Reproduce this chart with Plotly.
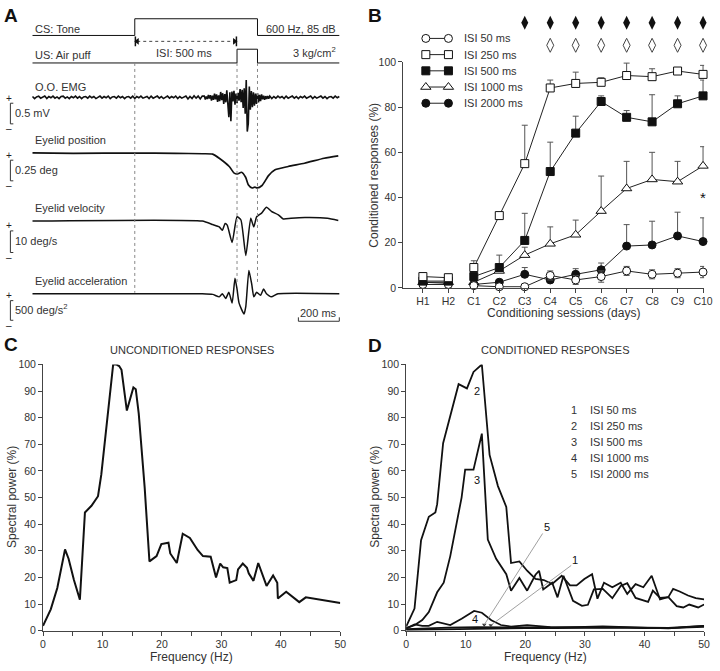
import plotly.graph_objects as go

W, H = 720, 671
def xp(px): return px / W
def yp(py): return 1 - py / H

FONT = "Liberation Sans, Arial, Helvetica, sans-serif"
TXT = "#333333"
INK = "#111111"

# ---------------- Panel A data (times in ms, CS onset = 0) ----------------
cs_t = [-500, 0, 0, 600, 600, 1000]
cs_v = [0, 0, 1, 1, 0, 0]
us_t = [-500, 500, 500, 600, 600, 1000]
us_v = [0, 0, 1, 1, 0, 0]
cs_on, us_on, us_off = 0, 500, 600

emg_base = [0.02, -0.03, 0.01, 0.03, -0.02, 0.00, 0.03, -0.03, 0.02, -0.01,
            0.03, -0.02, 0.01, -0.03, 0.02, 0.03, -0.02, 0.01, -0.03, 0.02,
            -0.01, 0.03, -0.02, 0.02, -0.03, 0.01, 0.02, -0.02, 0.03, -0.01,
            0.02, -0.03, 0.01, 0.03, -0.02, 0.02, -0.01, 0.03, -0.03, 0.01,
            0.02, -0.02, 0.03, -0.01, 0.02, -0.03, 0.01, 0.02, -0.02, 0.03,
            -0.03, 0.02, -0.01, 0.03, -0.02, 0.01, 0.02, -0.03, 0.03, -0.02,
            0.01, 0.03, -0.02, 0.02, -0.03, 0.01, 0.03, -0.02, 0.02, -0.01,
            0.03, -0.03, 0.02, -0.02, 0.01, 0.03, -0.04, 0.02, -0.03, 0.04,
            -0.02, 0.03, -0.04, 0.03]
emg_burst = [0.03, -0.05, 0.02, -0.04, 0.06, -0.03, 0.05, -0.08, 0.04, -0.06,
             0.09, -0.05, 0.07, -0.11, 0.05, -0.09, 0.13, -0.07, 0.10, -0.16,
             0.08, -0.12, 0.17, -0.22, -0.48, 0.12, -0.58, 0.14, -0.10, 0.16,
             -0.18, 0.09, -0.14, 0.11, -0.08, 0.20, -0.12, 0.18, -0.26, 0.22,
             -0.40, 0.42, -0.83, -0.64, 0.26, -0.30, 0.15, -0.24, 0.12, -0.20,
             0.09, -0.16, 0.10, -0.12, 0.06, -0.09, 0.07, -0.05, 0.04, -0.06,
             0.03, -0.04, 0.03, -0.03]
emg_tail = [0.03, -0.03, 0.02, -0.02, 0.03, -0.01, 0.02, -0.03, 0.03, -0.02,
            0.01, 0.03, -0.02, 0.02, -0.03, 0.02, -0.01, 0.03, -0.02, 0.01,
            0.03, -0.03, 0.02, -0.02, 0.01, 0.03, -0.02, 0.02, -0.03, 0.01,
            0.02, -0.02, 0.03, -0.01, 0.02]
emg_t = list(range(-500, 340, 10)) + list(range(340, 660, 5)) + list(range(660, 1001, 10))
emg_v = emg_base + emg_burst + emg_tail

pos_t = [-500, -300, 0, 200, 333, 381, 413, 462, 486, 502, 522, 542, 555, 574, 587,
         598, 622, 654, 686, 750, 830, 926, 995]
pos_v = [0.005, 0.0, 0.003, 0.0, -0.005, -0.01, -0.06, -0.16, -0.24, -0.25, -0.23,
         -0.29, -0.38, -0.42, -0.41, -0.42, -0.39, -0.27, -0.20, -0.16, -0.12, -0.06, -0.03]

vel_t = [-500, 330, 381, 413, 428, 442, 452, 476, 500, 519, 543, 567, 582, 596, 620,
         644, 668, 702, 726, 764, 832, 942, 995]
vel_v = [0, 0, -1.6, -2.7, -4.3, -1.1, -1.9, -9.9, 2.0, 0.5, -15.9, 1.3, -2.7, 2.0,
         3.7, 6.4, 4.5, 2.9, 1.0, 1.3, 1.6, 1.3, 0.3]

acc_t = [-500, 330, 381, 413, 428, 445, 460, 476, 490, 500, 510, 534, 543, 558, 572,
         582, 596, 615, 630, 644, 668, 700, 1000]
acc_v = [0, 0, -16, -79, 0, -119, 40, -238, 397, 119, -238, -516, -318, 595, 238,
         -79, 40, -40, 119, 0, -79, 0, 0]

emg_scale, pos_scale, vel_scale, acc_scale, time_scale = 0.5, 0.25, 10, 500, 200

# ---------------- Panel B data ----------------
sessions = ["H1", "H2", "C1", "C2", "C3", "C4", "C5", "C6", "C7", "C8", "C9", "C10"]
isi_names = ["ISI 50 ms", "ISI 250 ms", "ISI 500 ms", "ISI 1000 ms", "ISI 2000 ms"]
isi50 = [1.5, 1.5, 1.0, 0.5, 0.5, 5.5, 3.5, 5.0, 7.5, 6.0, 6.5, 7.0]
isi50_err = [1.0, 1.0, 0.5, 0.5, 0.5, 2.0, 2.0, 2.5, 2.0, 2.0, 2.0, 2.5]
isi250 = [5.0, 4.5, 9.0, 32.0, 55.0, 88.5, 90.5, 91.0, 94.0, 93.5, 96.0, 94.5]
isi250_err = [1.5, 1.5, 3.0, 0.5, 17.0, 3.5, 5.0, 2.0, 5.5, 3.5, 1.0, 4.0]
isi500 = [3.0, 3.0, 5.0, 9.0, 21.0, 51.5, 68.5, 82.5, 75.5, 73.5, 81.5, 85.0]
isi500_err = [1.0, 1.0, 1.0, 5.5, 12.0, 13.0, 7.5, 2.5, 3.0, 12.0, 3.5, 7.0]
isi1000 = [2.5, 2.5, 2.5, 7.5, 14.5, 19.5, 23.5, 34.0, 44.0, 48.0, 47.0, 54.0]
isi1000_err = [1.0, 1.0, 1.0, 2.5, 3.5, 7.5, 6.5, 15.5, 12.0, 12.0, 9.0, 8.5]
isi2000 = [2.5, 2.0, 1.5, 2.5, 6.0, 3.5, 6.0, 8.0, 18.5, 19.0, 23.0, 20.5]
isi2000_err = [1.0, 1.0, 0.5, 1.0, 3.0, 2.0, 2.5, 3.0, 9.5, 10.5, 10.5, 10.5]
sig_filled = ["C3", "C4", "C5", "C6", "C7", "C8", "C9", "C10"]
sig_open = ["C4", "C5", "C6", "C7", "C8", "C9", "C10"]
star_session = "C10"

# ---------------- Panel C data ----------------
uc_f = [0, 1.3, 2.4, 3.7, 4.3, 5.2, 6.2, 7.05, 8.15, 9.25, 9.8, 11.8, 12.3, 12.8, 13.2,
        14.1, 15.2, 15.6, 16.1, 17.1, 17.9, 19.1, 19.9, 21.1, 21.4, 22.5, 23.5, 24.7,
        26.0, 26.9, 28.2, 29.1, 29.8, 30.3, 31.0, 31.4, 32.5, 32.8, 33.6, 34.3, 34.6,
        35.4, 36.2, 37.6, 38.7, 39.4, 39.5, 40.9, 43.1, 44.2, 50]
uc_p = [1.8, 8, 16, 30.5, 27, 19, 11.6, 44.4, 46.9, 50.5, 58.6, 100, 100, 99.4, 98,
        82.7, 91.4, 90.7, 81.5, 53.7, 26, 28, 32.5, 33, 29, 25.4, 36.4, 34.8, 30.3,
        28, 27.8, 20, 25.2, 23.8, 23.5, 18, 19, 23, 25.2, 23.6, 21.5, 18.7, 25.4,
        16.8, 20.7, 18, 12.1, 14.6, 10.7, 12.5, 10.4]

# ---------------- Panel D data ----------------
cr_names = ["ISI 50 ms", "ISI 250 ms", "ISI 500 ms", "ISI 1000 ms", "ISI 2000 ms"]
cr1_f = [0, 5, 10, 15, 20, 25, 30, 35, 40, 45, 50]
cr1_p = [0.3, 0.5, 0.6, 0.8, 0.9, 0.9, 1.0, 1.1, 0.9, 1.0, 1.4]
cr2_f = [0, 1.4, 2.5, 3.8, 4.9, 5.2, 6.2, 8.8, 10.2, 11.3, 12.7, 14.0, 15.4, 16.8, 17.6,
         19.0, 20.3, 21.7, 23.1, 24.5, 26.1, 27.5, 28.6, 29.9, 31.2, 32.1, 33.2, 34.6,
         36.0, 37.1, 38.5, 39.8, 41.2, 42.6, 44.0, 44.8, 45.9, 47.3, 48.6, 50]
cr2_p = [1.5, 8.3, 34, 42.8, 44.4, 47.5, 70.4, 92.6, 91, 97.2, 100, 66, 54.3, 46.5, 25.4,
         26, 22.5, 19.4, 19, 17.5, 20.6, 17, 17, 19.4, 21.2, 12, 18, 16.3, 18, 13.8,
         17.5, 16.3, 20.6, 11.7, 12.6, 15.7, 14.7, 13.2, 12.2, 11.7]
cr3_f = [0, 1.4, 2.7, 3.8, 5.2, 6.3, 7.4, 8.5, 9.3, 9.9, 11.3, 12.7, 13.7, 15.1, 16.8,
         17.6, 19.0, 20.3, 21.7, 22.3, 23.0, 24.5, 25.4, 26.4, 28.0, 29.5, 30.5, 31.5,
         33.0, 34.6, 36.0, 37.1, 38.5, 40.6, 41.4, 42.6, 44.0, 45.4, 46.5, 47.5, 49.0, 50]
cr3_p = [0.9, 2, 4, 7, 14.4, 18, 28, 40.4, 50, 60.5, 60.5, 74, 34.2, 27, 21.2, 15,
         19.8, 15, 21, 22.5, 15.5, 18, 12.5, 20.6, 11.2, 9.3, 9.7, 15.5, 15.7, 12.2,
         16.8, 17.8, 12.3, 10.8, 15, 12.3, 12.6, 9.2, 8.7, 9.8, 8.7, 9.8]
cr4_f = [0, 1.4, 2.7, 3.8, 5.2, 7.4, 9.3, 11.4, 12.7, 14.3, 15.9, 17.6, 20.3, 22.0,
         24.2, 28, 32, 36, 40, 44, 47, 50]
cr4_p = [0.85, 2.3, 1.8, 1.8, 3.3, 2.1, 4.5, 7.4, 6.7, 3.9, 2.1, 1.5, 2.1, 1.8, 1.3,
         1.2, 1.3, 1.2, 1.1, 1.0, 1.4, 1.8]
cr5_f = [0, 3, 7, 12, 16, 20, 25, 30, 33, 37, 41, 44, 47, 50]
cr5_p = [0.6, 0.9, 1.1, 1.3, 1.2, 1.1, 1.2, 1.4, 1.6, 1.3, 0.9, 0.8, 1.3, 1.8]

# =====================================================================
fig = go.Figure()
annotations = []
shapes = []

def ann(text, px, py, size=11, xanchor="left", yanchor="middle", color=TXT, **kw):
    d = dict(text=text, x=xp(px), y=yp(py), xref="paper", yref="paper", showarrow=False,
             font=dict(family=FONT, size=size, color=color), xanchor=xanchor, yanchor=yanchor)
    d.update(kw)
    return d

# ---------------- Panel A layout ----------------
MS_PER_PX = 500 / 104.0
T0_PX = 134
def t_at(px): return (px - T0_PX) * MS_PER_PX

a_x_range = [t_at(0), t_at(345)]
bands = {
    "cs": ("y", 6, 40, 30, 17.0),
    "us": ("y6", 40, 62, 58, 14.0),
    "emg": ("y7", 66, 136, 93, 42.0),
    "pos": ("y8", 140, 200, 150, 84.0),
    "vel": ("y9", 200, 262, 219, 2.2),
    "acc": ("y10", 262, 330, 293, 0.04),
}
def band_val(key, py):
    _, top, bot, zero, ppu = bands[key]
    return (zero - py) / ppu

layout_axes = {}
layout_axes["xaxis"] = dict(domain=[0, xp(345)], range=a_x_range, visible=False,
                            fixedrange=True, anchor="y")
for key, (ax, top, bot, zero, ppu) in bands.items():
    name = "yaxis" if ax == "y" else "yaxis" + ax[1:]
    layout_axes[name] = dict(domain=[yp(bot), yp(top)],
                             range=[(zero - bot) / ppu, (zero - top) / ppu],
                             visible=False, fixedrange=True, anchor="x")

fig.add_trace(go.Scatter(x=cs_t, y=cs_v, mode="lines", line=dict(color=INK, width=1),
                         xaxis="x", yaxis="y", hoverinfo="skip"))
fig.add_trace(go.Scatter(x=us_t, y=us_v, mode="lines", line=dict(color=INK, width=1),
                         xaxis="x", yaxis="y6", hoverinfo="skip"))
fig.add_trace(go.Scatter(x=emg_t, y=emg_v, mode="lines", line=dict(color=INK, width=1.6),
                         xaxis="x", yaxis="y7", hoverinfo="skip"))
fig.add_trace(go.Scatter(x=pos_t, y=pos_v, mode="lines", line=dict(color=INK, width=1.7, shape="spline", smoothing=0.6),
                         xaxis="x", yaxis="y8", hoverinfo="skip"))
fig.add_trace(go.Scatter(x=vel_t, y=vel_v, mode="lines", line=dict(color=INK, width=1.5, shape="spline", smoothing=0.5),
                         xaxis="x", yaxis="y9", hoverinfo="skip"))
fig.add_trace(go.Scatter(x=acc_t, y=acc_v, mode="lines", line=dict(color=INK, width=1.5, shape="spline", smoothing=0.5),
                         xaxis="x", yaxis="y10", hoverinfo="skip"))

# ISI arrow (on CS axis)
isi_y = band_val("cs", 36)
fig.add_trace(go.Scatter(x=[cs_on + 12, us_on - 12], y=[isi_y, isi_y], mode="lines",
                         line=dict(color="#444", width=1, dash="dot"),
                         xaxis="x", yaxis="y", hoverinfo="skip"))
fig.add_trace(go.Scatter(x=[cs_on + 12, us_on - 12], y=[isi_y, isi_y], mode="markers",
                         marker=dict(symbol=["triangle-left", "triangle-right"], size=6, color=INK),
                         xaxis="x", yaxis="y", hoverinfo="skip", cliponaxis=False))
fig.add_trace(go.Scatter(x=[cs_on + 3, us_on - 3], y=[isi_y, isi_y], mode="markers",
                         marker=dict(symbol="line-ns", size=7, line=dict(color=INK, width=1.5)),
                         xaxis="x", yaxis="y", hoverinfo="skip", cliponaxis=False))

for t, bottom in [(cs_on, 292), (us_on, 284), (us_off, 284)]:
    shapes.append(dict(type="line", xref="x", yref="paper", x0=t, x1=t, y0=yp(58), y1=yp(bottom),
                       line=dict(color="#888", width=1, dash="dot")))

bx0, bx1 = t_at(7.5), t_at(10.5)
scale_defs = [("emg", "y7", emg_scale, 99, "0.5 mV"),
              ("pos", "y8", pos_scale, 157, "0.25 deg"),
              ("vel", "y9", vel_scale, 229, "10 deg/s"),
              ("acc", "y10", acc_scale, 300, "500 deg/s<sup>2</sup>")]
for key, ax, sc, top_px, label in scale_defs:
    ytop = band_val(key, top_px)
    ybot = ytop - sc
    for seg in [(bx0, ytop, bx0, ybot), (bx0, ytop, bx1, ytop), (bx0, ybot, bx1, ybot)]:
        shapes.append(dict(type="line", xref="x", yref=ax, x0=seg[0], y0=seg[1], x1=seg[2], y1=seg[3],
                           line=dict(color="#333", width=1)))
    ppu = bands[key][4]
    bot_px = top_px + sc * ppu
    annotations.append(ann("+", 6, top_px - 5, size=10, xanchor="center", color="#222"))
    annotations.append(ann("\u2013", 6, bot_px + 5, size=10, xanchor="center", color="#222"))
    annotations.append(ann(label, 10, (top_px + bot_px) / 2 - 1, size=11))

tb_y = band_val("acc", 321)
tb_tick = band_val("acc", 317)
t_end = 1000
for seg in [(t_end - time_scale, tb_y, t_end, tb_y), (t_end - time_scale, tb_y, t_end - time_scale, tb_tick),
            (t_end, tb_y, t_end, tb_tick)]:
    shapes.append(dict(type="line", xref="x", yref="y10", x0=seg[0], y0=seg[1], x1=seg[2], y1=seg[3],
                       line=dict(color="#333", width=1)))
annotations.append(ann("200 ms", 321, 313, size=11, xanchor="center"))

annotations += [
    ann("CS: Tone", 30, 23), ann("600 Hz, 85 dB", 341, 23, xanchor="right"),
    ann("US: Air puff", 30, 50), ann("ISI: 500 ms", 184, 48, xanchor="center"),
    ann("3 kg/cm<sup>2</sup>", 341, 47, xanchor="right"),
    ann("O.O. EMG", 30, 82), ann("Eyelid position", 30, 136),
    ann("Eyelid velocity", 30, 206), ann("Eyelid acceleration", 30, 280),
]

# ---------------- Panel B ----------------
def axis_style(**kw):
    base = dict(showline=True, linecolor="#444", linewidth=1, ticks="outside", ticklen=4,
                tickwidth=1, tickcolor="#444",
                tickfont=dict(family=FONT, size=10.5, color=TXT),
                showgrid=False, zeroline=False, fixedrange=True)
    base.update(kw)
    return base

B_PX_PER = 25.9
B_H1_PX = 427
b_x_range = [(407 - B_H1_PX) / B_PX_PER, (713 - B_H1_PX) / B_PX_PER]
layout_axes["xaxis2"] = axis_style(domain=[xp(407), xp(713)], range=b_x_range,
                                   tickvals=list(range(len(sessions))), ticktext=sessions, anchor="y2")
layout_axes["yaxis2"] = axis_style(domain=[yp(287), yp(57)], range=[0, 100],
                                   tickvals=[0, 20, 40, 60, 80, 100], anchor="x2")

series_vals = [isi50, isi250, isi500, isi1000, isi2000]
series_err = [isi50_err, isi250_err, isi500_err, isi1000_err, isi2000_err]
series_sym = ["circle", "square", "square", "triangle-up", "circle"]
series_fill = ["white", "white", INK, "white", INK]
series_sizes = [8, 8, 8, 9, 8]
series_down = [True, False, False, False, False]
draw_order = [3, 4, 0, 2, 1]
xs = list(range(len(sessions)))
for i in draw_order:
    vals, err = series_vals[i], series_err[i]
    for a, b in [(0, 2), (2, len(sessions))]:
        fig.add_trace(go.Scatter(
            x=xs[a:b], y=vals[a:b], mode="lines+markers",
            line=dict(color="#222", width=1),
            marker=dict(symbol=series_sym[i], size=series_sizes[i], color=series_fill[i],
                        line=dict(color=INK, width=1)),
            error_y=dict(type="data", symmetric=False, array=err[a:b],
                         arrayminus=(err[a:b] if series_down[i] else [0] * (b - a)),
                         color="#555", thickness=1, width=3),
            xaxis="x2", yaxis="y2", cliponaxis=False, hoverinfo="skip"))

layout_axes["xaxis6"] = dict(domain=[xp(407), xp(713)], range=b_x_range, visible=False,
                             fixedrange=True, anchor="y11")
layout_axes["yaxis11"] = dict(domain=[yp(48), yp(8)], range=[(48 - 17) / 23, (8 - 17) / 23],
                              visible=False, fixedrange=True, anchor="x6")
fig.add_trace(go.Scatter(x=[sessions.index(s) for s in sig_filled], y=[0] * len(sig_filled),
                         mode="markers", marker=dict(symbol="diamond-tall", size=10, color=INK),
                         xaxis="x6", yaxis="y11", cliponaxis=False, hoverinfo="skip"))
fig.add_trace(go.Scatter(x=[sessions.index(s) for s in sig_open], y=[1] * len(sig_open),
                         mode="markers", marker=dict(symbol="diamond-tall-open", size=10, color="#444",
                                                     line=dict(width=1)),
                         xaxis="x6", yaxis="y11", cliponaxis=False, hoverinfo="skip"))
annotations.append(dict(text="*", x=sessions.index(star_session), y=40, xref="x2", yref="y2",
                        showarrow=False, font=dict(family=FONT, size=15, color=INK)))

layout_axes["xaxis5"] = dict(domain=[xp(420), xp(463)], range=[(420 - 430) / 23, (463 - 430) / 23],
                             visible=False, fixedrange=True, anchor="y5")
layout_axes["yaxis5"] = dict(domain=[yp(110), yp(25)], range=[(110 - 33) / 16.5, (25 - 33) / 16.5],
                             visible=False, fixedrange=True, anchor="x5")
for i, name in enumerate(isi_names):
    fig.add_trace(go.Scatter(x=[0, 1], y=[i, i], mode="lines+markers",
                             line=dict(color="#222", width=1),
                             marker=dict(symbol=series_sym[i], size=series_sizes[i], color=series_fill[i],
                                         line=dict(color=INK, width=1)),
                             xaxis="x5", yaxis="y5", cliponaxis=False, hoverinfo="skip"))
    annotations.append(ann(name, 467, 33 + 16.5 * i, size=11))

annotations.append(ann("Conditioned responses (%)", 377, 172, size=12, xanchor="center", textangle=-90))
annotations.append(ann("Conditioning sessions (days)", 570, 313, size=12, xanchor="center"))

# ---------------- Panel C ----------------
minor_ticks = dict(dtick=5, ticks="outside", ticklen=4, tickcolor="#444", showgrid=False)
layout_axes["xaxis3"] = axis_style(domain=[xp(40.7), xp(343)], range=[0, 50], dtick=10, tick0=0,
                                   minor=minor_ticks, anchor="y3")
layout_axes["yaxis3"] = axis_style(domain=[yp(636), yp(365)], range=[0, 100],
                                   dtick=10, tick0=0, anchor="x3")
fig.add_trace(go.Scatter(x=uc_f, y=uc_p, mode="lines", line=dict(color=INK, width=2),
                         xaxis="x3", yaxis="y3", hoverinfo="skip"))
annotations.append(ann("UNCONDITIONED RESPONSES", 192, 350, size=11, xanchor="center"))
annotations.append(ann("Frequency (Hz)", 192, 663, size=12, xanchor="center"))
annotations.append(ann("Spectral power (%)", 9, 500, size=12, xanchor="center", textangle=-90))

# ---------------- Panel D ----------------
layout_axes["xaxis4"] = axis_style(domain=[xp(410), xp(713)], range=[0, 50], dtick=10, tick0=0,
                                   minor=minor_ticks, anchor="y4")
layout_axes["yaxis4"] = axis_style(domain=[yp(636), yp(365)], range=[0, 100],
                                   dtick=10, tick0=0, anchor="x4")
cr_f = [cr1_f, cr2_f, cr3_f, cr4_f, cr5_f]
cr_p = [cr1_p, cr2_p, cr3_p, cr4_p, cr5_p]
for i in [0, 4, 3, 2, 1]:
    fig.add_trace(go.Scatter(x=cr_f[i], y=cr_p[i], mode="lines",
                             line=dict(color=INK, width=1.8 if i in (1, 2) else 1.7),
                             xaxis="x4", yaxis="y4", cliponaxis=False, hoverinfo="skip"))

def dlabel(text, f, p):
    return dict(text=text, x=f, y=p, xref="x4", yref="y4", showarrow=False,
                font=dict(family=FONT, size=11, color=INK))
annotations += [dlabel("2", 11.9, 90), dlabel("3", 11.9, 56.5), dlabel("4", 11.5, 4.4)]
# pointer lines from labels 5 and 1 to the curves near zero
pointers = [("5", 13.1, 2.2, 22.9, 36.5, 23.6, 39.0), ("1", 14.2, 2.0, 27.7, 24.5, 28.4, 26.4)]
tips_f, tips_p = [], []
for lab, tf, tp, lf0, lp0, lf, lp in pointers:
    shapes.append(dict(type="line", xref="x4", yref="y4", x0=lf0, y0=lp0, x1=tf, y1=tp,
                       line=dict(color="#888", width=0.8)))
    annotations.append(dlabel(lab, lf, lp))
    tips_f.append(tf)
    tips_p.append(tp)
fig.add_trace(go.Scatter(x=tips_f, y=tips_p, mode="markers",
                         marker=dict(symbol="triangle-down", size=4, color="#333"),
                         xaxis="x4", yaxis="y4", cliponaxis=False, hoverinfo="skip"))
for i, name in enumerate(cr_names):
    annotations.append(ann(str(i + 1), 581, 411 + 16.3 * i, size=11, xanchor="center"))
    annotations.append(ann(name, 595, 411 + 16.3 * i, size=11))
annotations.append(ann("CONDITIONED RESPONSES", 562, 350, size=11, xanchor="center"))
annotations.append(ann("Frequency (Hz)", 552, 663, size=12, xanchor="center"))
annotations.append(ann("Spectral power (%)", 378, 500, size=12, xanchor="center", textangle=-90))

for letter, px, py in [("A", 8, 10), ("B", 378, 10), ("C", 8, 345), ("D", 378, 346)]:
    annotations.append(ann("<b>" + letter + "</b>", px, py, size=19, xanchor="center", color=INK))

fig.update_layout(width=W, height=H, margin=dict(l=0, r=0, t=0, b=0),
                  paper_bgcolor="white", plot_bgcolor="rgba(0,0,0,0)",
                  showlegend=False, annotations=annotations, shapes=shapes,
                  font=dict(family=FONT, color=TXT), **layout_axes)
fig.write_html("out.html", config={"displayModeBar": False},
               post_script="document.body.style.margin='0';document.body.style.overflow='hidden';")
